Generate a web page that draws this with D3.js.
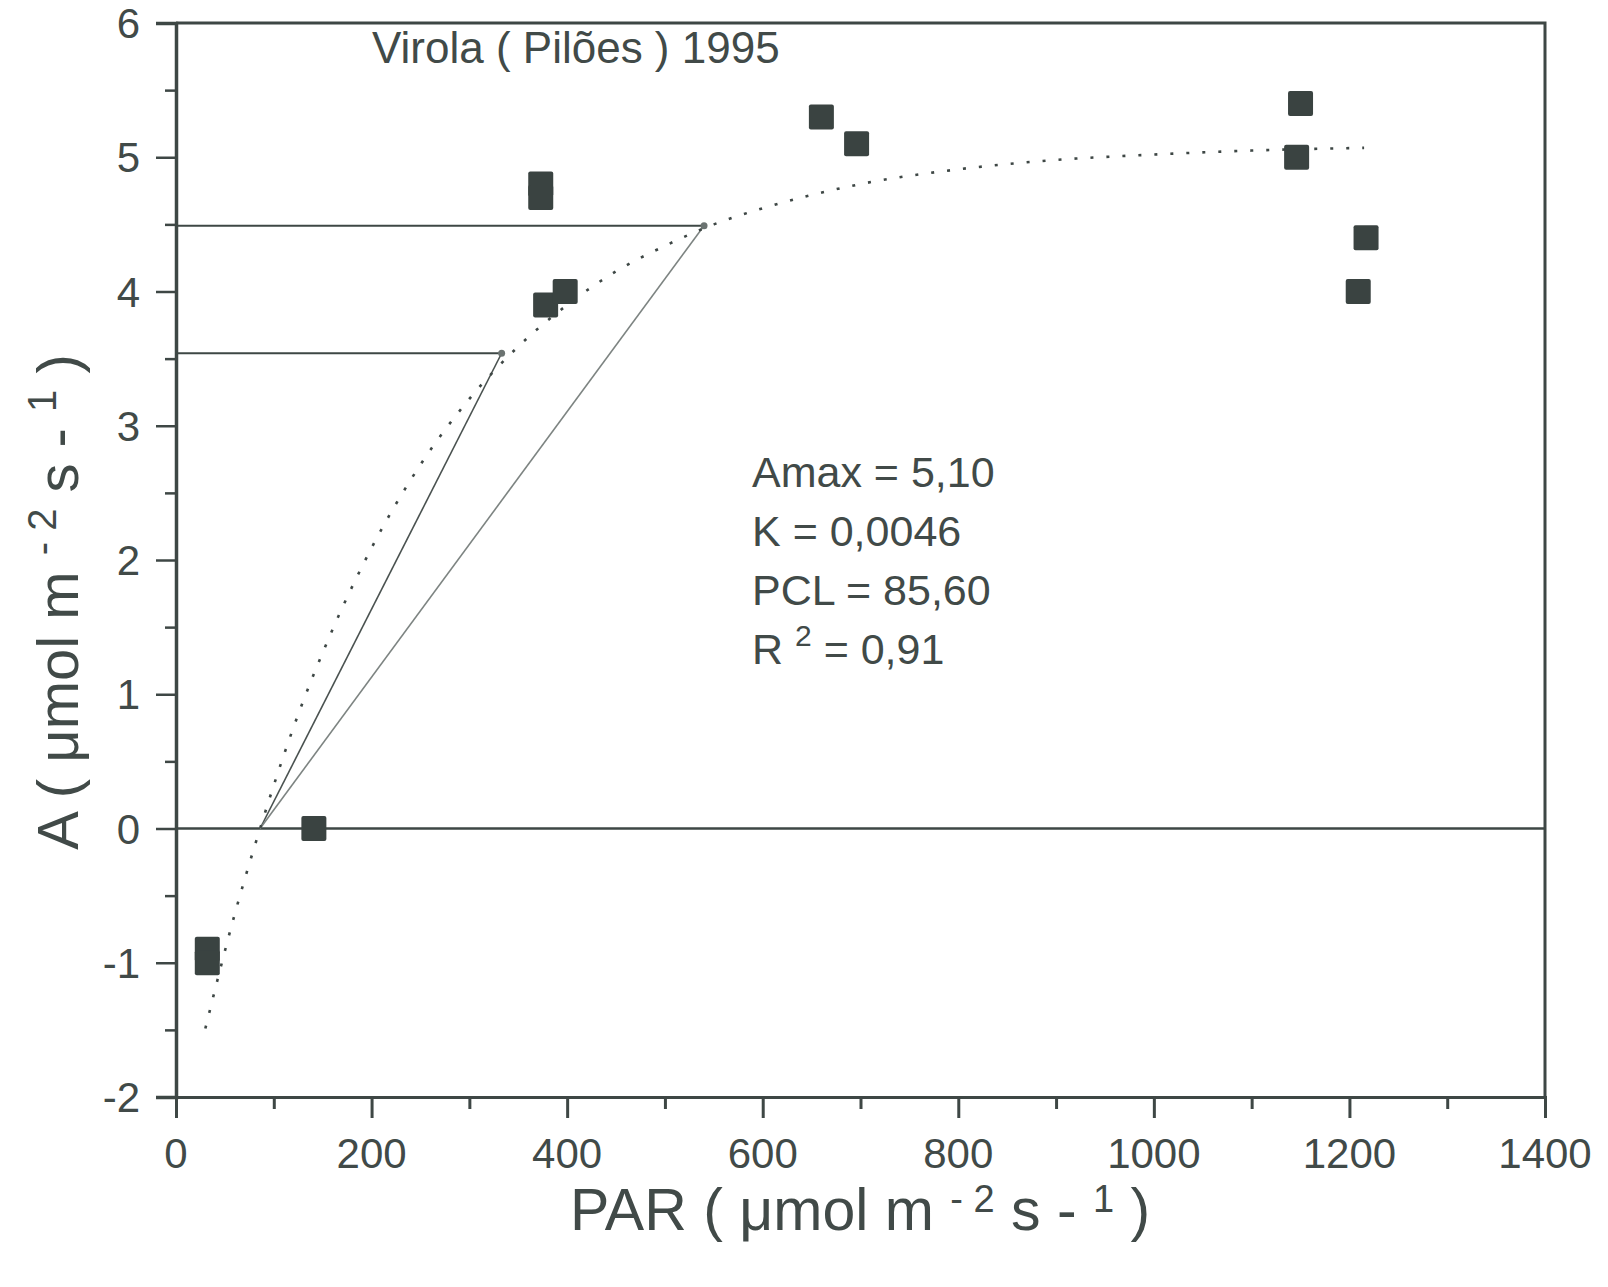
<!DOCTYPE html>
<html>
  <head>
    <meta charset="utf-8">
    <script src="https://d3js.org/d3.v7.min.js"></script>
    <style>
      body { margin: 0; background: #fff; }
      text { font-family: "Liberation Sans", Arial, sans-serif; fill: #414a48; }
    </style>
  </head>
<body>
<script>
// measured points (PAR, A)
var parObs = [32, 32, 141, 373, 373, 378, 398, 660, 696, 1150, 1146, 1217, 1209];
var aObs   = [-0.9, -1.0, 0, 4.8, 4.7, 3.9, 4.0, 5.3, 5.1, 5.4, 5.0, 4.4, 4.0];

// dotted fitted curve
var curvePar = [30, 60, 86, 120, 160, 200, 250, 300, 350, 400, 450, 500, 550, 600, 700, 800, 900, 1000, 1100, 1215];
var curveA   = [-1.49, -0.64, 0, 0.75, 1.48, 2.09, 2.71, 3.20, 3.59, 3.90, 4.15, 4.34, 4.50, 4.62, 4.80, 4.91, 4.98, 5.02, 5.05, 5.07];

// tangent lines: from the compensation point to two points on the curve
var compPoint = [86, 0];
var tangentPar = [333, 540];
var tangentA   = [3.54, 4.49];

var xTicks = [0, 200, 400, 600, 800, 1000, 1200, 1400];
var yTicks = [-2, -1, 0, 1, 2, 3, 4, 5, 6];
var notes = ["Amax = 5,10", "K = 0,0046", "PCL = 85,60"];

var W = 1608, H = 1287;
var ink = "#3e4745";

var svg = d3.select("body").append("svg")
    .attr("width", W).attr("height", H);

var x = d3.scaleLinear().domain([0, 1400]).range([176, 1545]);
var y = d3.scaleLinear().domain([-2, 6]).range([1097, 23]);

// frame: top and right border
svg.append("path")
    .attr("d", "M" + x(0) + "," + y(6) + "H" + x(1400) + "V" + y(-2))
    .attr("fill", "none").attr("stroke", ink).attr("stroke-width", 3);

// x axis
var xAxis = svg.append("g").attr("transform", "translate(0," + y(-2) + ")");
xAxis.call(d3.axisBottom(x).tickValues(d3.range(0, 1401, 100)).tickSize(21).tickFormat(""));
xAxis.selectAll(".tick line").attr("stroke", ink).attr("stroke-width", 3)
    .attr("y2", function (d) { return d % 200 === 0 ? 21 : 12; });
xAxis.select(".domain").attr("stroke", ink).attr("stroke-width", 3);
xAxis.selectAll("text.lbl").data(xTicks).enter().append("text")
    .attr("class", "lbl")
    .attr("x", function (d) { return x(d); })
    .attr("y", 71)
    .attr("text-anchor", "middle")
    .style("font-size", "42px")
    .text(function (d) { return d; });

// y axis
var yAxis = svg.append("g").attr("transform", "translate(" + x(0) + ",0)");
yAxis.call(d3.axisLeft(y).tickValues(d3.range(-2, 6.01, 0.5)).tickSize(20).tickFormat(""));
yAxis.selectAll(".tick line").attr("stroke", ink).attr("stroke-width", 2.5)
    .attr("x2", function (d) { return d % 1 === 0 ? -20 : -11; });
yAxis.select(".domain").attr("stroke", ink).attr("stroke-width", 3.5);
yAxis.selectAll("text.lbl").data(yTicks).enter().append("text")
    .attr("class", "lbl")
    .attr("x", -36)
    .attr("y", function (d) { return y(d) + 15; })
    .attr("text-anchor", "end")
    .style("font-size", "42px")
    .text(function (d) { return d; });

// zero line
svg.append("line")
    .attr("x1", x(0)).attr("x2", x(1400))
    .attr("y1", y(0)).attr("y2", y(0))
    .attr("stroke", ink).attr("stroke-width", 2.5);

// horizontal guide lines to the tangent points
svg.selectAll("line.hguide").data(tangentPar).enter().append("line")
    .attr("class", "hguide")
    .attr("x1", x(0))
    .attr("x2", function (d) { return x(d); })
    .attr("y1", function (d, i) { return y(tangentA[i]); })
    .attr("y2", function (d, i) { return y(tangentA[i]); })
    .attr("stroke", ink).attr("stroke-width", 2);

// tangent lines
svg.selectAll("line.tangent").data(tangentPar).enter().append("line")
    .attr("class", "tangent")
    .attr("x1", x(compPoint[0])).attr("y1", y(compPoint[1]))
    .attr("x2", function (d) { return x(d); })
    .attr("y2", function (d, i) { return y(tangentA[i]); })
    .attr("stroke", function (d, i) { return i === 0 ? "#4a5250" : "#7d8482"; })
    .attr("stroke-width", 1.6);

svg.selectAll("circle.tp").data(tangentPar).enter().append("circle")
    .attr("class", "tp")
    .attr("cx", function (d) { return x(d); })
    .attr("cy", function (d, i) { return y(tangentA[i]); })
    .attr("r", 3.5).attr("fill", "#6b7371");

// dotted curve
var curve = curvePar.map(function (d, i) { return [d, curveA[i]]; });
svg.append("path")
    .datum(curve)
    .attr("d", d3.line()
        .x(function (d) { return x(d[0]); })
        .y(function (d) { return y(d[1]); })
        .curve(d3.curveMonotoneX))
    .attr("fill", "none").attr("stroke", ink)
    .attr("stroke-width", 2.6).attr("stroke-dasharray", "3,13");

// observed points
var s = 25;
svg.selectAll("rect.pt").data(parObs).enter().append("rect")
    .attr("class", "pt")
    .attr("x", function (d) { return x(d) - s / 2; })
    .attr("y", function (d, i) { return y(aObs[i]) - s / 2; })
    .attr("width", s).attr("height", s)
    .attr("rx", 2)
    .attr("fill", "#3a4341");

// title inside the plot
svg.append("text")
    .attr("x", 372).attr("y", 63)
    .style("font-size", "44px")
    .text("Virola ( Pilões ) 1995");

// fit parameters
svg.selectAll("text.note").data(notes).enter().append("text")
    .attr("class", "note")
    .attr("x", 752)
    .attr("y", function (d, i) { return 487 + i * 59; })
    .style("font-size", "43px")
    .text(function (d) { return d; });
var r2 = svg.append("text").attr("x", 752).attr("y", 487 + 3 * 59).style("font-size", "43px");
r2.append("tspan").text("R ");
r2.append("tspan").attr("dy", -18).style("font-size", "30px").text("2");
r2.append("tspan").attr("dy", 18).text(" = 0,91");

// x axis title
var xt = svg.append("text")
    .attr("x", 860).attr("y", 1230)
    .attr("text-anchor", "middle")
    .style("font-size", "59px");
xt.append("tspan").text("PAR ( μmol m ");
xt.append("tspan").attr("dy", -18).style("font-size", "38px").text("- 2");
xt.append("tspan").attr("dy", 18).text(" s - ");
xt.append("tspan").attr("dy", -18).style("font-size", "38px").text("1");
xt.append("tspan").attr("dy", 18).text(" )");

// y axis title
var yt = svg.append("text")
    .attr("transform", "translate(78,602) rotate(-90)")
    .attr("text-anchor", "middle")
    .style("font-size", "58px");
yt.append("tspan").text("A ( μmol m ");
yt.append("tspan").attr("dy", -22).style("font-size", "40px").text("- 2");
yt.append("tspan").attr("dy", 22).text(" s - ");
yt.append("tspan").attr("dy", -22).style("font-size", "40px").text("1");
yt.append("tspan").attr("dy", 22).text(" )");
</script>
</body>
</html>
